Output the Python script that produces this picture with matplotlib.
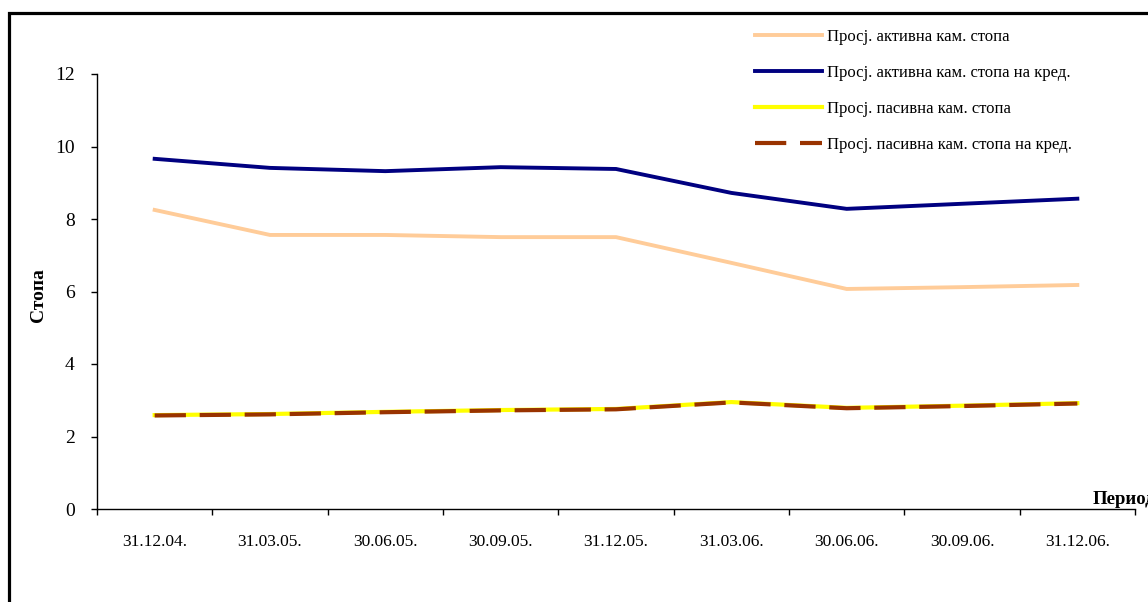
import matplotlib
matplotlib.use("Agg")
import matplotlib.pyplot as plt
from matplotlib.patches import Rectangle

plt.rcParams["font.family"] = ["Liberation Serif", "DejaVu Serif"]

periods = ["31.12.04.", "31.03.05.", "30.06.05.", "30.09.05.", "31.12.05.",
           "31.03.06.", "30.06.06.", "30.09.06.", "31.12.06."]
active_avg = [8.25, 7.56, 7.56, 7.50, 7.50, 6.79, 6.07, 6.12, 6.18]
active_credit = [9.66, 9.41, 9.32, 9.43, 9.38, 8.72, 8.28, 8.42, 8.56]
passive_avg = [2.59, 2.62, 2.68, 2.73, 2.76, 2.95, 2.79, 2.85, 2.92]
passive_credit = [2.58, 2.61, 2.67, 2.72, 2.75, 2.94, 2.78, 2.84, 2.91]
series_labels = ["Просј. активна кам. стопа",
                 "Просј. активна кам. стопа на кред.",
                 "Просј. пасивна кам. стопа",
                 "Просј. пасивна кам. стопа на кред."]
y_ticks = [0, 2, 4, 6, 8, 10, 12]

W, H = 1148, 602
fig = plt.figure(figsize=(W / 100, H / 100), dpi=100)

# outer chart frame (top and left edges fall inside the image)
fig.patches.append(Rectangle((9 / W, -0.1), 1.2, 1 - 13 / H + 0.1,
                             transform=fig.transFigure, fill=False,
                             edgecolor="black", linewidth=2.3, zorder=0))

ax = fig.add_axes([97 / W, (H - 509) / H, (1135 - 97) / W, (509 - 74) / H])
x = list(range(len(periods)))

ax.plot(x, active_avg, color="#FFCC99", lw=2.8, label=series_labels[0],
        solid_joinstyle="miter")
ax.plot(x, active_credit, color="#000080", lw=2.8, label=series_labels[1],
        solid_joinstyle="miter")
ax.plot(x, passive_avg, color="#FFFF00", lw=3.0, label=series_labels[2])
ax.plot(x, passive_credit, color="#993300", lw=3.0, label=series_labels[3],
        dashes=(7.5, 3.3), dash_capstyle="butt")

ax.set_xlim(-0.5, len(periods) - 0.5)
ax.set_ylim(0, 12)
ax.set_yticks(y_ticks)
ax.set_yticklabels([str(v) for v in y_ticks], fontsize=14)

ax.set_xticks([i - 0.5 for i in range(len(periods) + 1)])
ax.set_xticklabels([])
ax.set_xticks(x, minor=True)
ax.set_xticklabels(periods, minor=True, fontsize=12.5)
ax.tick_params(axis="x", which="minor", length=0, pad=18)
ax.tick_params(axis="x", which="major", length=4, width=1, direction="out")
ax.tick_params(axis="y", length=4, width=1, direction="out", pad=12)

for s in ("top", "right"):
    ax.spines[s].set_visible(False)
for s in ("left", "bottom"):
    ax.spines[s].set_linewidth(1.0)

ax.set_ylabel("Стопа", fontsize=14, fontweight="bold")
ax.yaxis.set_label_coords((47 - 97) / 1038, (509 - 295.5) / 435)
fig.text(1093 / W, (H - 499) / H, "Период", fontsize=13.5, fontweight="bold",
         ha="left", va="center")

leg = fig.legend(loc="upper left", bbox_to_anchor=(740 / W, (H - 14) / H),
                 frameon=False, fontsize=12, handlelength=4.0,
                 handletextpad=0.3, labelspacing=1.2)

fig.savefig("out.png", dpi=100, facecolor="white")
